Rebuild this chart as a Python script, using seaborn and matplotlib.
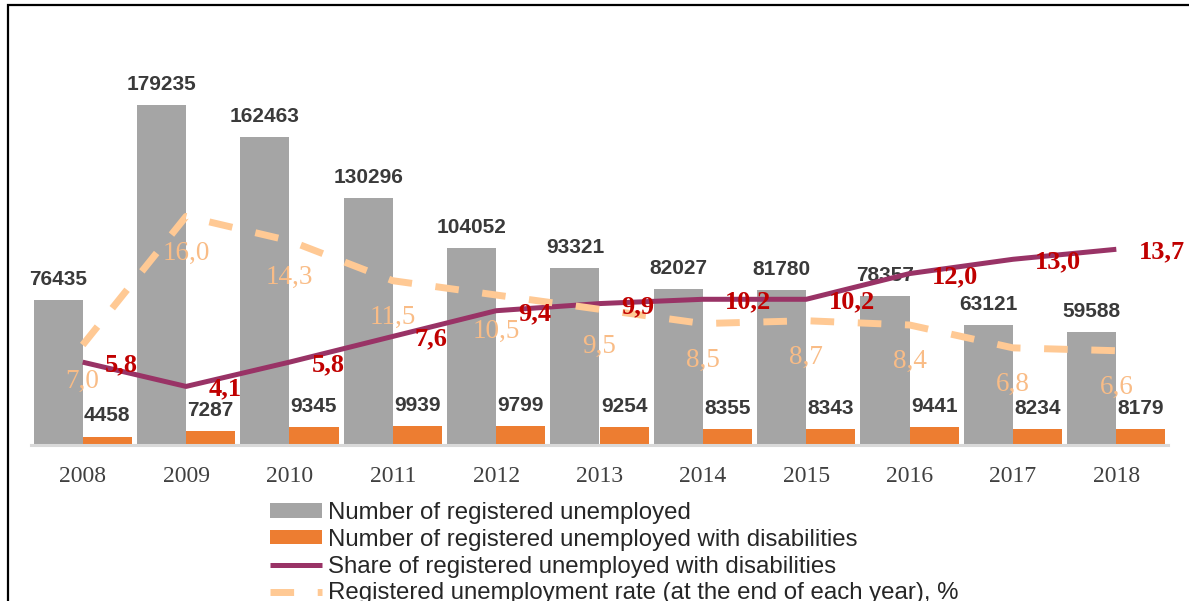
import numpy as np
import pandas as pd
import matplotlib
matplotlib.use("Agg")
import matplotlib.pyplot as plt
from matplotlib.patches import Patch, Rectangle
from matplotlib.lines import Line2D
import seaborn as sns

years = ["2008", "2009", "2010", "2011", "2012", "2013",
         "2014", "2015", "2016", "2017", "2018"]
registered = [76435, 179235, 162463, 130296, 104052, 93321,
              82027, 81780, 78357, 63121, 59588]
disabled = [4458, 7287, 9345, 9939, 9799, 9254,
            8355, 8343, 9441, 8234, 8179]
share_pct = [5.8, 4.1, 5.8, 7.6, 9.4, 9.9, 10.2, 10.2, 12.0, 13.0, 13.7]
rate_pct = [7.0, 16.0, 14.3, 11.5, 10.5, 9.5, 8.5, 8.7, 8.4, 6.8, 6.6]

series_names = [
    "Number of registered unemployed",
    "Number of registered unemployed with disabilities",
    "Share of registered unemployed with disabilities",
    "Registered unemployment rate (at the end of each year), %",
]

GREY = "#A5A5A5"
ORANGE = "#ED7D31"
PLUM = "#993366"
PEACH = "#FFC994"
PEACH_TXT = "#F9BC86"
DARKRED = "#C00000"
LABEL = "#3A3A3A"

sns.set_theme(style="white")
plt.rcParams["font.family"] = ["Liberation Sans", "DejaVu Sans"]

W, H = 1189, 601
fig = plt.figure(figsize=(W / 100, H / 100), dpi=100)
ax = fig.add_axes([31 / W, (H - 445) / H, 1137 / W, 400 / H])

bars = pd.DataFrame({
    "year": years * 2,
    "value": registered + disabled,
    "series": [series_names[0]] * len(years) + [series_names[1]] * len(years),
})
sns.barplot(data=bars, x="year", y="value", hue="series",
            palette=[GREY, ORANGE], width=0.95, linewidth=0,
            saturation=1, legend=False, ax=ax)

for container, vals in zip(ax.containers, [registered, disabled]):
    ax.bar_label(container, labels=[str(v) for v in vals], padding=8,
                 fontsize=15, fontweight="bold", color=LABEL,
                 family=["Liberation Sans", "DejaVu Sans"])

ax.set_xlim(-0.5, len(years) - 0.5)
ax.set_ylim(0, 210880)
ax.set_xlabel("")
ax.set_ylabel("")
ax.set_yticks([])
ax.tick_params(axis="x", length=0, pad=15, labelsize=17, labelcolor="#404040")
for t in ax.get_xticklabels():
    t.set_family(["Liberation Serif", "DejaVu Serif"])
for side in ["top", "left", "right"]:
    ax.spines[side].set_visible(False)
ax.spines["bottom"].set_color("#D9D9D9")
ax.spines["bottom"].set_linewidth(2.2)

# Percentages on a twin axis
ax2 = ax.twinx()
pos = np.arange(len(years))
sns.lineplot(x=pos, y=share_pct, color=PLUM, linewidth=3.6, ax=ax2,
             solid_capstyle="butt")
sns.lineplot(x=pos, y=rate_pct, color=PEACH, linewidth=5, ax=ax2)
ax2.lines[-1].set_dashes((3.4, 3.4))
ax2.lines[-1].set_dash_capstyle("butt")
ax2.set_ylim(0, 28.0)
ax2.set_xlim(-0.5, len(years) - 0.5)
ax2.set_yticks([])
ax2.set_ylabel("")
for side in ["top", "left", "right", "bottom"]:
    ax2.spines[side].set_visible(False)

for x, v in zip(pos, share_pct):
    ax2.annotate(f"{v:.1f}".replace(".", ","), (x, v), xytext=(16, -2),
                 textcoords="offset points", ha="left", va="center",
                 fontsize=19, fontweight="bold", color=DARKRED,
                 family=["Liberation Serif", "DejaVu Serif"], zorder=10)
for x, v in zip(pos, rate_pct):
    ax2.annotate(f"{v:.1f}".replace(".", ","), (x, v), xytext=(0, -26.5),
                 textcoords="offset points", ha="center", va="center",
                 fontsize=19.5, color=PEACH_TXT,
                 family=["Liberation Serif", "DejaVu Serif"], zorder=10)

handles = [
    Patch(facecolor=GREY, edgecolor="none"),
    Patch(facecolor=ORANGE, edgecolor="none"),
    Line2D([], [], color=PLUM, linewidth=3.6, solid_capstyle="butt"),
    Line2D([], [], color=PEACH, linewidth=5, dashes=(3.4, 3.4),
           dash_capstyle="butt"),
]
fig.legend(handles, series_names, loc="upper left",
           bbox_to_anchor=(270 / W, 1 - 502 / H), frameon=False,
           fontsize=17.3, handlelength=2.17, handleheight=0.54,
           handletextpad=0.25, labelspacing=0.2, borderpad=0,
           borderaxespad=0)

# Outer frame
fig.add_artist(Rectangle((8 / W, -0.2), 1.2, 1.2 - 5 / H,
                         transform=fig.transFigure, fill=False,
                         edgecolor="black", linewidth=1.6))

fig.savefig("out.png", dpi=100)
